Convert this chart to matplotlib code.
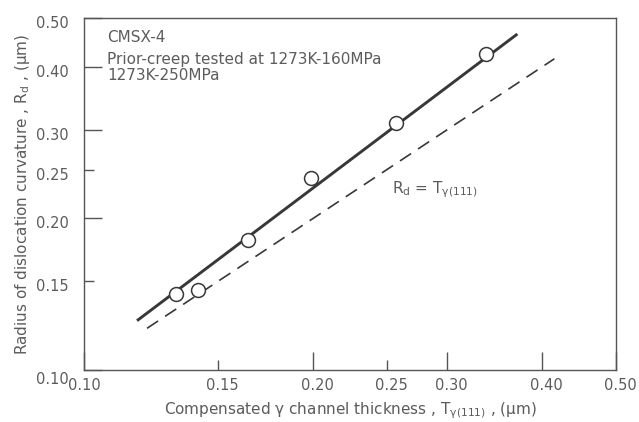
import matplotlib
matplotlib.use("Agg")
import matplotlib.pyplot as plt
from matplotlib.ticker import FixedLocator, FixedFormatter
import matplotlib.transforms as mtrans

plt.rcParams['font.family'] = ['DejaVu Sans']
plt.rcParams['mathtext.fontset'] = 'dejavusans'

# data
channel_thickness = [0.132, 0.141, 0.164, 0.199, 0.257, 0.3375]
radius_curvature = [0.1416, 0.1442, 0.181, 0.2406, 0.310, 0.424]
fit_x = [0.1174, 0.371]
fit_y = [0.1253, 0.4647]
equal_x = [0.121, 0.415]
equal_y = [0.121, 0.415]
major_ticks = [0.10, 0.20, 0.30, 0.40, 0.50]
major_labels = ["0.10", "0.20", "0.30", "0.40", "0.50"]
minor_ticks = [0.15, 0.25]
minor_labels = ["0.15", "0.25"]

text_c = '#5c5c5c'
line_c = '#383838'
spine_c = '#555555'
fs = 10.5
fs2 = 11

fig = plt.figure(figsize=(6.39, 4.22), dpi=100)
ax = fig.add_axes([84/639, 52/422, 532/639, 352/422])
ax.set_xscale('log')
ax.set_yscale('log')
ax.set_xlim(0.10, 0.50)
ax.set_ylim(0.10, 0.50)

ax.plot(fit_x, fit_y, color=line_c, lw=2.1, solid_capstyle='butt')
ax.plot(equal_x, equal_y, color=line_c, lw=1.2, dashes=(8, 5))
ax.plot(channel_thickness, radius_curvature, 'o', ms=10, mfc='white',
        mec=line_c, mew=1.1, zorder=5)

for axis in (ax.xaxis, ax.yaxis):
    axis.set_major_locator(FixedLocator(major_ticks))
    axis.set_major_formatter(FixedFormatter(major_labels))
    axis.set_minor_locator(FixedLocator(minor_ticks))
    axis.set_minor_formatter(FixedFormatter(minor_labels))

ax.tick_params(axis='both', which='major', direction='in', length=13, width=1.0,
               color=spine_c, labelcolor=text_c, labelsize=fs)
ax.tick_params(axis='both', which='minor', direction='in', length=7, width=1.0,
               color=spine_c, labelcolor=text_c, labelsize=fs)
ax.tick_params(axis='x', which='both', pad=6)
ax.tick_params(axis='y', which='both', pad=11)
for s in ax.spines.values():
    s.set_color(spine_c)
    s.set_linewidth(1.0)

# small offsets of tick labels as in the original
down = mtrans.ScaledTranslation(0, -4/100, fig.dpi_scale_trans)
for t in ax.yaxis.get_major_ticks() + ax.yaxis.get_minor_ticks():
    t.label1.set_transform(t.label1.get_transform() + down)
ax.yaxis.get_major_ticks()[0].label1.set_transform(
    ax.yaxis.get_major_ticks()[0].label1.get_transform() + down)
right = mtrans.ScaledTranslation(4/100, 0, fig.dpi_scale_trans)
for t in ax.xaxis.get_major_ticks()[1:] + ax.xaxis.get_minor_ticks():
    t.label1.set_transform(t.label1.get_transform() + right)

ax.set_xlabel(r"Compensated γ channel thickness , T$_{\mathrm{γ(111)}}$ , (μm)",
              color=text_c, fontsize=fs2, labelpad=5)
ax.set_ylabel(r"Radius of dislocation curvature , R$_{\mathrm{d}}$ , (μm)",
              color=text_c, fontsize=fs2, labelpad=3)

ax.text(0.043, 0.945, "CMSX-4", transform=ax.transAxes, ha='left', va='center',
        fontsize=fs2, color=text_c)
ax.text(0.043, 0.883, "Prior-creep tested at 1273K-160MPa", transform=ax.transAxes,
        ha='left', va='center', fontsize=fs2, color=text_c)
ax.text(0.043, 0.838, "1273K-250MPa", transform=ax.transAxes,
        ha='left', va='center', fontsize=fs2, color=text_c)
ax.text(0.254, 0.2277, r"R$_{\mathrm{d}}$ = T$_{\mathrm{γ(111)}}$", ha='left', va='center',
        fontsize=fs2, color=text_c)

fig.savefig("out.png", dpi=100)
